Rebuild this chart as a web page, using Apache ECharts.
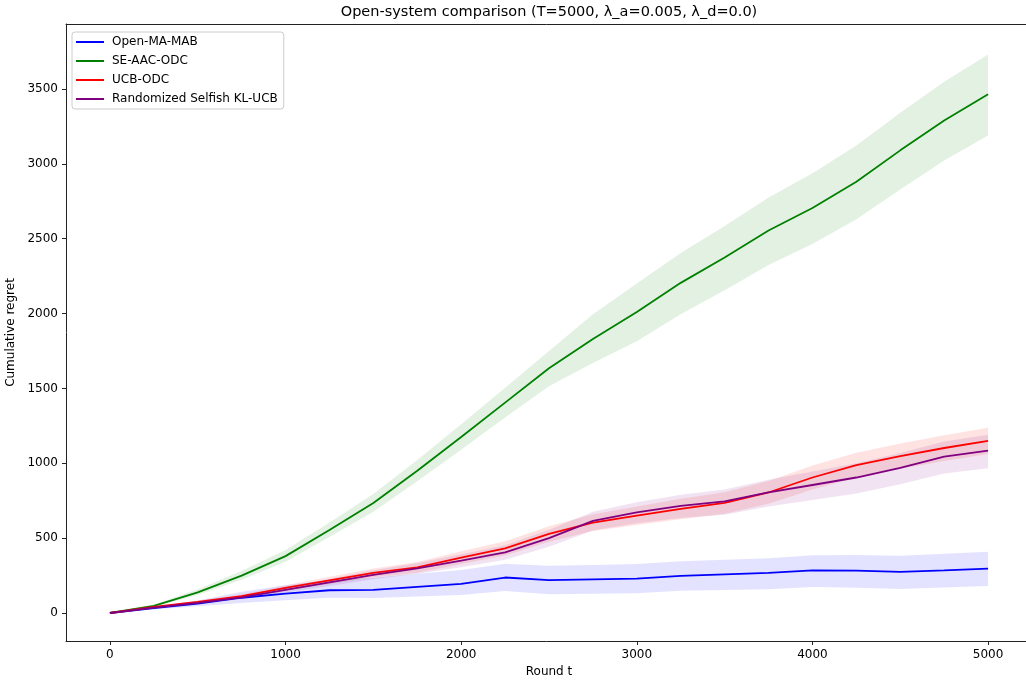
<!DOCTYPE html>
<html>
<head>
<meta charset="utf-8">
<title>Open-system comparison</title>
<script src="https://cdn.jsdelivr.net/npm/echarts@6/dist/echarts.min.js"></script>
<style>
  html, body { margin: 0; padding: 0; background: #fff; }
  #chart { width: 1026px; height: 683px; }
</style>
</head>
<body>
<div id="chart"></div>
<script>
// Round index at which each curve is sampled
const rounds = [0, 250, 500, 750, 1000, 1250, 1500, 1750, 2000, 2250, 2500,
                2750, 3000, 3250, 3500, 3750, 4000, 4250, 4500, 4750, 5000];

// Open-MA-MAB: mean cumulative regret and band
const openMean  = [0, 32, 63, 102, 130, 152, 155, 175, 195, 237, 220, 225, 230, 248, 258, 268, 285, 283, 275, 285, 297];
const openUpper = [0, 40, 83, 142, 185, 220, 235, 263, 287, 329, 315, 321, 328, 346, 356, 366, 385, 387, 383, 395, 409];
const openLower = [0, 24, 45, 67, 85, 102, 100, 110, 120, 147, 125, 129, 132, 148, 153, 158, 173, 169, 160, 170, 181];

// SE-AAC-ODC
const seMean  = [0, 48, 138, 250, 380, 555, 735, 950, 1175, 1405, 1635, 1830, 2010, 2205, 2375, 2555, 2705, 2880, 3090, 3290, 3465];
const seUpper = [0, 56, 158, 280, 420, 605, 795, 1022, 1260, 1505, 1750, 1995, 2200, 2405, 2585, 2775, 2937, 3122, 3342, 3548, 3730];
const seLower = [0, 40, 120, 222, 342, 507, 677, 880, 1090, 1305, 1515, 1670, 1815, 1995, 2155, 2325, 2465, 2630, 2828, 3022, 3190];

// UCB-ODC
const ucbMean  = [0, 40, 75, 113, 168, 218, 268, 305, 370, 432, 528, 603, 650, 695, 735, 805, 905, 988, 1048, 1102, 1150];
const ucbUpper = [0, 44, 83, 125, 186, 242, 298, 341, 412, 480, 580, 659, 712, 763, 807, 881, 985, 1070, 1132, 1188, 1238];
const ucbLower = [0, 36, 67, 101, 150, 194, 238, 269, 328, 384, 476, 547, 588, 627, 663, 729, 825, 906, 964, 1016, 1062];

// Randomized Selfish KL-UCB
const rsMean  = [0, 36, 68, 105, 155, 205, 255, 298, 350, 405, 500, 615, 672, 715, 745, 805, 855, 905, 970, 1045, 1085];
const rsUpper = [0, 40, 76, 117, 173, 229, 285, 334, 392, 453, 556, 677, 740, 790, 825, 890, 945, 1000, 1068, 1145, 1190];
const rsLower = [0, 32, 60, 93, 137, 181, 225, 262, 306, 355, 442, 551, 600, 635, 657, 711, 755, 799, 860, 931, 967];

// Axis tick labels
const xTicks = [0, 1000, 2000, 3000, 4000, 5000];
const yTicks = [0, 500, 1000, 1500, 2000, 2500, 3000, 3500];

const FONT = 'DejaVu Sans';
const SPINE = '#222';

const methods = [
  { name: 'Open-MA-MAB', color: '#0000ff', mean: openMean, upper: openUpper, lower: openLower, fill: 'rgba(0,0,255,0.11)' },
  { name: 'SE-AAC-ODC', color: '#008000', mean: seMean, upper: seUpper, lower: seLower, fill: 'rgba(0,128,0,0.11)' },
  { name: 'UCB-ODC', color: '#ff0000', mean: ucbMean, upper: ucbUpper, lower: ucbLower, fill: 'rgba(255,0,0,0.11)' },
  { name: 'Randomized Selfish KL-UCB', color: '#800080', mean: rsMean, upper: rsUpper, lower: rsLower, fill: 'rgba(128,0,128,0.11)' }
];

const pairs = (xs, ys) => xs.map((x, i) => [x, ys[i]]);

const series = [];

// Shaded bands: one polygon per method, upper edge forward then lower edge back
methods.forEach(m => {
  const rows = rounds.map((t, i) => [t, m.lower[i], m.upper[i]]);
  series.push({
    type: 'custom', name: m.name + ' band', silent: true, z: 1,
    data: rows,
    encode: { x: 0, y: [1, 2] },
    renderItem: (params, api) => {
      if (params.dataIndex !== 0) return null;
      const pts = [];
      rows.forEach(r => pts.push(api.coord([r[0], r[2]])));
      for (let i = rows.length - 1; i >= 0; i--) pts.push(api.coord([rows[i][0], rows[i][1]]));
      return {
        type: 'polygon',
        shape: { points: pts },
        style: { fill: m.fill, stroke: null }
      };
    }
  });
});

// Mean curves
methods.forEach(m => {
  series.push({
    type: 'line', name: m.name,
    data: pairs(rounds, m.mean),
    symbol: 'none', color: m.color,
    lineStyle: { color: m.color, width: 1.8 }, z: 3
  });
});

const chart = echarts.init(document.getElementById('chart'), null, { renderer: 'canvas' });
chart.setOption({
  animation: false,
  backgroundColor: '#ffffff',
  textStyle: { fontFamily: FONT },
  graphic: [{
    type: 'text', x: 549, y: 5,
    style: {
      text: 'Open-system comparison (T=5000, λ_a=0.005, λ_d=0.0)',
      font: '14.5px "DejaVu Sans"', fill: '#000', textAlign: 'center'
    }
  }],
  grid: {
    left: 66, top: 24, width: 966, height: 617,
    outerBoundsMode: 'none', containLabel: false, show: false
  },
  legend: {
    data: methods.map(m => m.name),
    orient: 'vertical', left: 72, top: 32,
    padding: [3, 6, 3, 4], itemGap: 5,
    itemWidth: 28, itemHeight: 2, icon: 'rect',
    backgroundColor: 'rgba(255,255,255,0.8)',
    borderColor: '#cccccc', borderWidth: 1, borderRadius: 3,
    textStyle: { fontFamily: FONT, fontSize: 12, color: '#000', lineHeight: 14, padding: [0, 0, 0, 3] }
  },
  xAxis: [{
    type: 'value', min: -250, max: 5250, position: 'bottom',
    name: 'Round t', nameLocation: 'middle', nameGap: 23,
    nameTextStyle: { fontFamily: FONT, fontSize: 12, color: '#000' },
    axisLine: { show: true, onZero: false, lineStyle: { color: SPINE, width: 1 } },
    axisTick: { show: true, length: 4, customValues: xTicks, lineStyle: { color: SPINE } },
    axisLabel: { customValues: xTicks, margin: 8, fontFamily: FONT, fontSize: 12, color: '#000',
                 formatter: v => String(v) },
    splitLine: { show: false }
  }, {
    // top spine only
    type: 'value', min: -250, max: 5250, position: 'top',
    axisLine: { show: true, onZero: false, lineStyle: { color: SPINE, width: 1 } },
    axisTick: { show: false }, axisLabel: { show: false }, splitLine: { show: false }
  }],
  yAxis: {
    type: 'value', min: -187, max: 3934,
    name: 'Cumulative regret', nameLocation: 'middle', nameGap: 39,
    nameTextStyle: { fontFamily: FONT, fontSize: 12, color: '#000' },
    axisLine: { show: true, onZero: false, lineStyle: { color: SPINE, width: 1 } },
    axisTick: { show: true, length: 4, customValues: yTicks, lineStyle: { color: SPINE } },
    axisLabel: { customValues: yTicks, margin: 8, fontFamily: FONT, fontSize: 12, color: '#000',
                 formatter: v => String(v) },
    splitLine: { show: false }
  },
  series: series
});
</script>
</body>
</html>
